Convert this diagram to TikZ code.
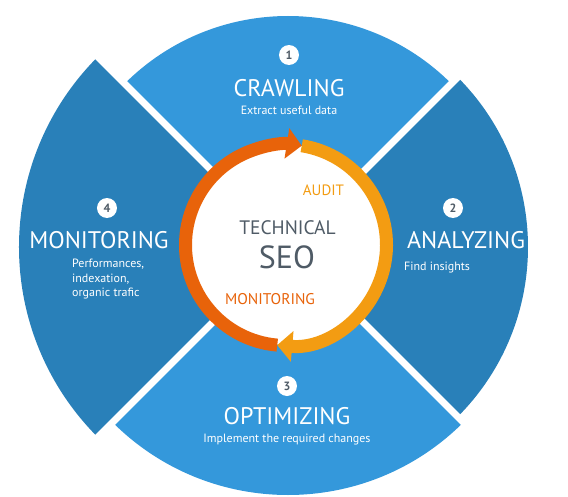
\documentclass[tikz,border=0pt]{standalone}
\usepackage{fontspec}
\setmainfont{PT Sans}
\usetikzlibrary{arrows.meta}
\definecolor{skyblue}{HTML}{3498DB}
\definecolor{deepblue}{HTML}{2980B9}
\definecolor{flame}{HTML}{E8630A}
\definecolor{amber}{HTML}{F39C12}
\definecolor{slate}{HTML}{4F5B66}

\begin{document}
\begin{tikzpicture}[x=1pt,y=1pt,
  title/.style={text=white,inner sep=0pt,font=\fontsize{24}{28}\selectfont},
  blurb/.style={text=white,inner sep=0pt,font=\fontsize{12}{14.5}\selectfont},
  badge/.style={circle,fill=white,minimum size=20pt,inner sep=0pt,
                text=slate,font=\fontsize{12}{12}\bfseries},
  gap/.style={draw=white,line width=7pt},
  ringarc/.style={line width=13pt,-{Triangle[length=15pt,width=30pt]}}
]
\useasboundingbox (-288,-249) rectangle (280,247);
\coordinate (hub) at (0,0);
\coordinate (core) at (-2,2);

% four sectors
\fill[skyblue] (hub) -- (45:231pt) arc[start angle=45,end angle=135,radius=231pt] -- cycle;
\fill[deepblue] (hub) -- (135:269pt) arc[start angle=135,end angle=225,radius=269pt] -- cycle;
\fill[skyblue] (hub) -- (225:248pt) arc[start angle=225,end angle=315,radius=248pt] -- cycle;
\fill[deepblue] (hub) -- (-45:240pt) arc[start angle=-45,end angle=45,radius=240pt] -- cycle;
\foreach \a in {45,135,225,315}
  \draw[gap] (hub) -- (\a:285pt);

% centre disc and cycle ring
\fill[white] (core) circle[radius=100pt];
\draw[ringarc,amber] ([shift={(81:100.5pt)}]core)
  arc[start angle=81,end angle=-95,radius=100.5pt];
\draw[ringarc,flame] ([shift={(265:100.5pt)}]core)
  arc[start angle=265,end angle=81,radius=100.5pt];

\node[text=slate,inner sep=0pt,font=\fontsize{19.5}{22}\selectfont] (tech) at (-0.5,19) {TECHNICAL};
\node[text=slate,inner sep=0pt,font=\fontsize{32}{36}\selectfont] (seo) at (-1,-10) {SEO};
\node[text=amber,inner sep=0pt,font=\fontsize{15}{18}\selectfont] (audit) at (35.5,57) {AUDIT};
\node[text=flame,inner sep=0pt,font=\fontsize{15.5}{18}\selectfont] (watch) at (-18,-52) {MONITORING};

% 1 crawling
\node[badge] (n1) at (1,192) {1};
\node[title] (crawl) at (1,159) {CRAWLING};
\node[blurb] (crawltxt) at (1,137) {Extract useful data};
% 2 analyzing
\node[badge] (n2) at (165,39) {2};
\node[title,anchor=west] (analyze) at (119,7) {ANALYZING};
\node[blurb,anchor=west] (analyzetxt) at (116,-21) {Find insights};
% 3 optimizing
\node[badge] (n3) at (-1,-139) {3};
\node[title] (optim) at (-1,-169) {OPTIMIZING};
\node[blurb] (optimtxt) at (-1,-193) {Implement the required changes};
% 4 monitoring
\node[badge] (n4) at (-181,39) {4};
\node[title] (monitor) at (-189,7) {MONITORING};
\node[blurb,align=left,anchor=north west] (monitortxt) at (-216,-12)
  {Performances,\\indexation,\\organic trafic};
\end{tikzpicture}
\end{document}
